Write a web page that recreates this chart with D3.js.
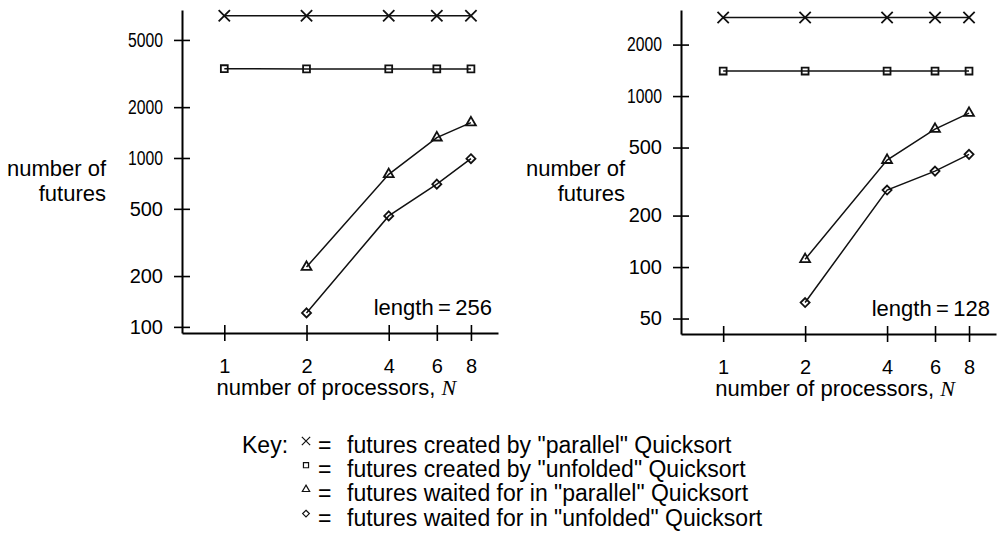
<!DOCTYPE html>
<html>
<head>
<meta charset="utf-8">
<script src="https://cdn.jsdelivr.net/npm/d3@7"></script>
<style>
  body { margin: 0; background: #fff; }
  svg { font-family: "Liberation Sans", Arial, Helvetica, sans-serif; }
</style>
</head>
<body>
<div id="chart"></div>
<script>

// number of processors, N
const processors = [1, 2, 4, 6, 8]

// length = 256
const createdParallel256 = [6950, 6950, 6950, 6950, 6950]
const createdUnfolded256 = [3380, 3370, 3370, 3370, 3370]
const waitedParallel256 = [null, 226, 800, 1320, 1620]
const waitedUnfolded256 = [null, 121, 454, 700, 990]

// length = 128
const createdParallel128 = [2880, 2880, 2880, 2880, 2880]
const createdUnfolded128 = [1400, 1400, 1400, 1400, 1400]
const waitedParallel128 = [null, 111, 422, 641, 795]
const waitedUnfolded128 = [null, 62, 282, 364, 456]

const yTicks256 = [100, 200, 500, 1000, 2000, 5000]
const yTicks128 = [50, 100, 200, 500, 1000, 2000]
const xTicks = [1, 2, 4, 6, 8]

const keyLabels = [
    'futures created by "parallel" Quicksort',
    'futures created by "unfolded" Quicksort',
    'futures waited for in "parallel" Quicksort',
    'futures waited for in "unfolded" Quicksort'
]

const W = 999, H = 534
const fontSize = 22      // titles
const keyFont = 23       // key lines
const tickFont = 20      // tick labels

const svg = d3.select("#chart")
    .append("svg")
    .attr("width", W)
    .attr("height", H)

const symbols = [d3.symbolTimes, d3.symbolSquare2, d3.symbolTriangle2, d3.symbolDiamond2]
const symbolSizes = [85, 60, 70, 52]

function panel(opt) {
    const x = d3.scaleLog().base(2)
        .domain([0.7, 10.05])
        .range([opt.left, opt.right])
    const y = d3.scaleLog()
        .domain(opt.yDomain)
        .range([opt.bottom, opt.top])

    const g = svg.append("g")

    // y axis, ticks crossing the line
    const ya = g.append("g")
        .attr("transform", `translate(${opt.left},0)`)
        .call(d3.axisLeft(y).tickValues(opt.yTicks).tickFormat(d3.format("d"))
            .tickSizeInner(8).tickSizeOuter(0).tickPadding(11))
    ya.attr("font-size", null).attr("font-family", null)
    ya.selectAll(".tick line").attr("x1", 8).attr("stroke-width", 1.6)
    ya.select(".domain").attr("stroke-width", 2)
    ya.selectAll(".tick text")
        .style("font-size", tickFont + "px")
        .attr("textLength", d => String(d).length > 3 ? 35 : null)
        .attr("lengthAdjust", "spacingAndGlyphs")

    // x axis
    const xa = g.append("g")
        .attr("transform", `translate(0,${opt.bottom})`)
        .call(d3.axisBottom(x).tickValues(xTicks).tickFormat(d3.format("d"))
            .tickSizeInner(8).tickSizeOuter(0).tickPadding(18))
    xa.attr("font-size", null).attr("font-family", null)
    xa.selectAll(".tick line").attr("y1", -8).attr("stroke-width", 1.6)
    xa.select(".domain").attr("stroke-width", 2)
    xa.selectAll(".tick text").style("font-size", tickFont + "px")

    // y axis title
    const yt = g.append("text")
        .attr("text-anchor", "end")
        .style("font-size", fontSize + "px")
    yt.append("tspan").attr("x", opt.titleRight).attr("y", 176).text("number of")
    yt.append("tspan").attr("x", opt.titleRight).attr("y", 201).text("futures")

    // x axis title
    const xt = g.append("text")
        .attr("x", x(1) + 112)
        .attr("y", opt.bottom + 62)
        .attr("text-anchor", "middle")
        .style("font-size", fontSize + "px")
    xt.append("tspan").text("number of processors, ")
    xt.append("tspan")
        .style("font-family", "'Liberation Serif', 'Times New Roman', serif")
        .style("font-style", "italic")
        .text("N")

    g.append("text")
        .attr("x", opt.right - 6)
        .attr("y", opt.bottom - 18)
        .attr("text-anchor", "end")
        .style("font-size", fontSize + "px")
        .text(opt.label)

    const line = d3.line()
        .defined(d => d.v != null)
        .x(d => x(d.n))
        .y(d => y(d.v))

    opt.series.forEach((s, i) => {
        const data = processors.map((n, j) => ({ n: n, v: s[j] }))
        g.append("path")
            .datum(data)
            .attr("fill", "none")
            .attr("stroke", "#111")
            .attr("stroke-width", 1.5)
            .attr("d", line)

        g.append("g")
            .selectAll("path")
            .data(data.filter(d => d.v != null))
            .enter().append("path")
            .attr("transform", d => `translate(${x(d.n)},${y(d.v)})`)
            .attr("d", d3.symbol(symbols[i], symbolSizes[i]))
            .attr("fill", "none")
            .attr("stroke", "#111")
            .attr("stroke-width", 1.8)
    })
}

panel({
    left: 182, right: 498, top: 10, bottom: 333,
    yDomain: [92, 7520],
    yTicks: yTicks256,
    titleRight: 106,
    label: "length\u2009=\u2009256",
    series: [createdParallel256, createdUnfolded256, waitedParallel256, waitedUnfolded256]
})

panel({
    left: 681, right: 996, top: 10, bottom: 334,
    yDomain: [40.6, 3186],
    yTicks: yTicks128,
    titleRight: 625,
    label: "length\u2009=\u2009128",
    series: [createdParallel128, createdUnfolded128, waitedParallel128, waitedUnfolded128]
})

// key
const key = svg.append("g")
key.append("text")
    .attr("x", 242).attr("y", 453)
    .style("font-size", keyFont + "px")
    .text("Key:")

const keyRows = key.selectAll(".row")
    .data(keyLabels)
    .enter().append("g")
    .attr("class", "row")
    .attr("transform", (d, i) => `translate(0,${453 + i * 24.2})`)

keyRows.append("path")
    .attr("transform", "translate(306,-12)")
    .attr("d", (d, i) => d3.symbol(symbols[i], symbolSizes[i] * 0.55)())
    .attr("fill", "none")
    .attr("stroke", "#111")
    .attr("stroke-width", 1.2)

keyRows.append("text")
    .attr("x", 318)
    .style("font-size", keyFont + "px")
    .text("=")

keyRows.append("text")
    .attr("x", 347)
    .style("font-size", keyFont + "px")
    .text(d => d)

</script>
</body>
</html>
